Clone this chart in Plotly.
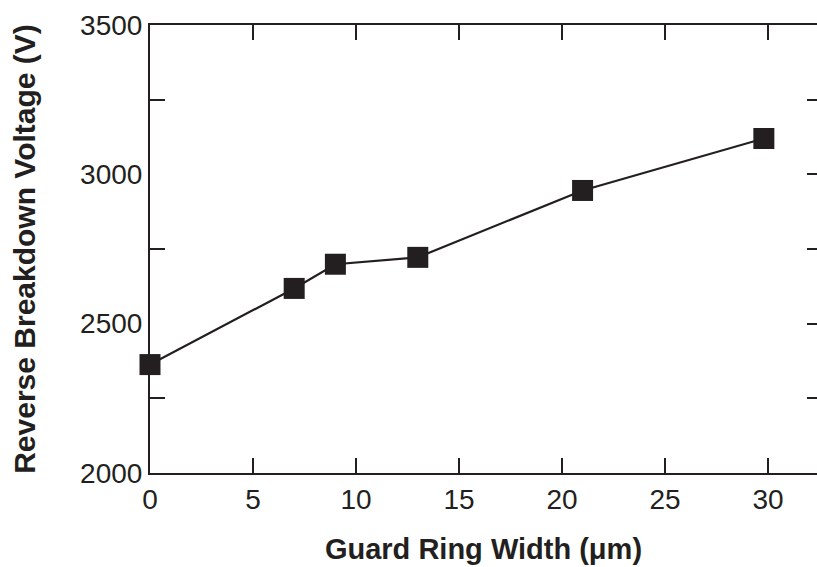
import plotly.graph_objects as go

guard_ring_width = [0, 7, 9, 13, 21, 29.8]
breakdown_voltage = [2363, 2618, 2699, 2722, 2946, 3120]

x_ticks = [0, 5, 10, 15, 20, 25, 30]
y_label_ticks = [2000, 2500, 3000, 3500]
y_minor_ticks = [2250, 2750, 3250]
y_right_ticks = [2000, 2250, 2500, 2750, 3000, 3250, 3500]

ink = "#231f20"
font_family = "Arial, Liberation Sans, sans-serif"

fig = go.Figure()
fig.add_trace(go.Scatter(
    x=guard_ring_width, y=breakdown_voltage,
    mode="lines+markers",
    line=dict(color=ink, width=2.2),
    marker=dict(symbol="square", size=21, color=ink),
    cliponaxis=False, showlegend=False,
))
fig.add_trace(go.Scatter(
    x=[None], y=[None], yaxis="y2", showlegend=False, hoverinfo="skip"
))

fig.update_layout(
    width=817, height=567,
    margin=dict(l=150, r=0, t=25, b=94),
    paper_bgcolor="white", plot_bgcolor="white",
    font=dict(family=font_family, color=ink),
    xaxis=dict(
        range=[0, 32.38], tickvals=x_ticks, ticks="inside", ticklen=15,
        tickwidth=2, tickcolor=ink, showline=True, linewidth=2, linecolor=ink,
        mirror="ticks", showgrid=False, zeroline=False,
        tickfont=dict(size=28, color=ink),
        title=dict(text="<b>Guard Ring Width (μm)</b>", font=dict(size=29, color=ink), standoff=25),
    ),
    yaxis=dict(
        range=[2000, 3500], tickvals=y_label_ticks, ticks="", showline=True,
        linewidth=2, linecolor=ink, showgrid=False, zeroline=False,
        tickfont=dict(size=28, color=ink),
        minor=dict(tickvals=y_minor_ticks, ticks="inside", ticklen=15, tickwidth=2, tickcolor=ink, showgrid=False),
        title=dict(text="<b>Reverse Breakdown Voltage (V)</b>", font=dict(size=30, color=ink), standoff=36),
    ),
    yaxis2=dict(
        range=[2000, 3500], overlaying="y", side="right", tickvals=y_right_ticks,
        ticks="inside", ticklen=10, tickwidth=2, tickcolor=ink, showticklabels=False,
        showline=False, showgrid=False, zeroline=False,
    ),
)

fig.write_html(
    "out.html",
    config={"displayModeBar": False},
    post_script="document.body.style.margin='0';document.body.style.overflow='hidden';",
)
